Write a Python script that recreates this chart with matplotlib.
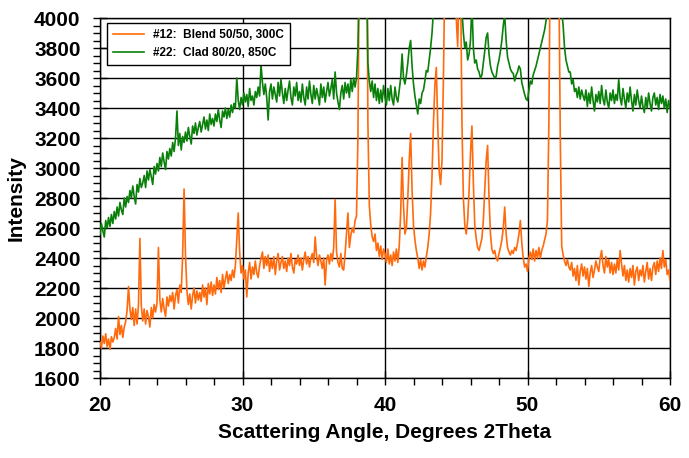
import numpy as np
import matplotlib
matplotlib.use("Agg")
import matplotlib.pyplot as plt
from matplotlib.ticker import MultipleLocator

# Scan grid: 20.0 .. 60.0 deg in 0.1 deg steps (instrument step)
angle = np.round(np.arange(200, 601) / 10.0, 1)

# #12: Blend 50/50, 300C  (one row per degree, 0.1 deg steps)
blend = [
    1840, 1800, 1880, 1830, 1895, 1810, 1860, 1790, 1875, 1840,   # 20
    1870, 1930, 1860, 2010, 1890, 1950, 1870, 1940, 1975, 2050,   # 21
    2210, 2060, 1990, 2070, 1950, 2060, 1960, 2090, 2530, 2080,   # 22
    1980, 2060, 1960, 2050, 2010, 1940, 2070, 2000, 2090, 2040,   # 23
    2100, 2470, 2120, 2040, 2130, 2060, 2010, 2140, 2080, 2150,   # 24
    2110, 2170, 2060, 2150, 2190, 2100, 2220, 2170, 2420, 2860,   # 25
    2420, 2180, 2090, 2160, 2060, 2150, 2200, 2100, 2180, 2120,   # 26
    2170, 2110, 2220, 2140, 2200, 2090, 2230, 2160, 2240, 2150,   # 27
    2220, 2160, 2270, 2190, 2250, 2170, 2290, 2200, 2260, 2310,   # 28
    2230, 2290, 2250, 2320, 2270, 2350, 2520, 2700, 2440, 2300,   # 29
    2350, 2260, 2320, 2140, 2300, 2370, 2260, 2340, 2290, 2380,   # 30
    2300, 2270, 2350, 2400, 2440, 2330, 2410, 2350, 2420, 2310,   # 31
    2390, 2330, 2410, 2290, 2380, 2430, 2320, 2370, 2410, 2330,   # 32
    2380, 2310, 2400, 2350, 2430, 2340, 2300, 2390, 2360, 2420,   # 33
    2350, 2400, 2320, 2390, 2440, 2360, 2410, 2340, 2400, 2430,   # 34
    2370, 2540, 2410, 2350, 2420, 2380, 2330, 2400, 2220, 2390,   # 35
    2420, 2360, 2430, 2380, 2470, 2790, 2440, 2370, 2340, 2430,   # 36
    2330, 2320, 2430, 2560, 2700, 2470, 2550, 2600, 2570, 2650,   # 37
    2680, 3200, 4500, 5000, 4600, 4400, 4600, 5000, 3300, 2750,   # 38
    2620, 2540, 2510, 2560, 2450, 2500, 2410, 2480, 2390, 2460,   # 39
    2430, 2370, 2460, 2360, 2420, 2350, 2440, 2380, 2460, 2370,   # 40
    2480, 2700, 3070, 2750, 2560, 2600, 2800, 3050, 3230, 2850,   # 41
    2620, 2520, 2450, 2400, 2330, 2390, 2320, 2380, 2340, 2410,   # 42
    2470, 2560, 2700, 2950, 3300, 3550, 3670, 3300, 2980, 2890,   # 43
    3050, 3600, 4300, 5000, 5500, 5600, 5500, 5200, 4800, 4300,   # 44
    4000, 3810, 4200, 4300, 3300, 2800, 2620, 2560, 2650, 2850,   # 45
    3100, 3280, 2900, 2620, 2530, 2470, 2450, 2490, 2530, 2650,   # 46
    2850, 3050, 3150, 2800, 2560, 2460, 2430, 2450, 2400, 2380,   # 47
    2430, 2470, 2520, 2600, 2740, 2560, 2470, 2440, 2420, 2450,   # 48
    2430, 2470, 2450, 2500, 2560, 2650, 2500, 2400, 2340, 2360,   # 49
    2310, 2400, 2440, 2390, 2460, 2380, 2450, 2400, 2470, 2400,   # 50
    2450, 2480, 2520, 2560, 2650, 3300, 4500, 5500, 6000, 6000,   # 51
    5500, 4800, 4300, 3200, 2480, 2420, 2380, 2350, 2390, 2340,   # 52
    2320, 2370, 2280, 2330, 2250, 2350, 2220, 2310, 2360, 2280,   # 53
    2340, 2260, 2330, 2210, 2300, 2350, 2270, 2320, 2380, 2340,   # 54
    2310, 2400, 2450, 2350, 2300, 2410, 2340, 2390, 2300, 2370,   # 55
    2290, 2360, 2300, 2390, 2320, 2450, 2360, 2280, 2350, 2250,   # 56
    2320, 2240, 2330, 2270, 2350, 2220, 2310, 2340, 2250, 2320,   # 57
    2280, 2350, 2240, 2310, 2370, 2260, 2330, 2250, 2340, 2370,   # 58
    2290, 2380, 2310, 2400, 2330, 2450, 2340, 2390, 2290, 2320,   # 59
    2250,                                                         # 60
]

# #22: Clad 80/20, 850C
clad = [
    2560, 2630, 2580, 2540, 2650, 2600, 2670, 2610, 2690, 2630,   # 20
    2710, 2660, 2740, 2680, 2770, 2720, 2690, 2800, 2740, 2810,   # 21
    2770, 2850, 2800, 2880, 2810, 2760, 2890, 2840, 2930, 2870,   # 22
    2900, 2950, 2870, 2980, 2920, 2990, 2940, 2890, 3010, 2960,   # 23
    3030, 2980, 3070, 3010, 3100, 3040, 2990, 3110, 3060, 3130,   # 24
    3080, 3170, 3110, 3200, 3380, 3150, 3230, 3120, 3210, 3170,   # 25
    3240, 3180, 3270, 3210, 3160, 3280, 3230, 3300, 3220, 3270,   # 26
    3310, 3240, 3290, 3340, 3260, 3320, 3250, 3360, 3290, 3330,   # 27
    3280, 3360, 3310, 3390, 3320, 3270, 3380, 3340, 3400, 3330,   # 28
    3390, 3340, 3420, 3370, 3430, 3400, 3600, 3450, 3390, 3470,   # 29
    3420, 3500, 3440, 3490, 3410, 3530, 3450, 3480, 3420, 3510,   # 30
    3470, 3540, 3480, 3690, 3570, 3490, 3560, 3470, 3320, 3510,   # 31
    3560, 3460, 3540, 3490, 3440, 3570, 3480, 3590, 3500, 3430,   # 32
    3530, 3450, 3520, 3580, 3470, 3420, 3540, 3480, 3570, 3450,   # 33
    3510, 3440, 3560, 3470, 3420, 3540, 3460, 3580, 3490, 3430,   # 34
    3550, 3460, 3530, 3480, 3420, 3560, 3470, 3540, 3440, 3510,   # 35
    3570, 3480, 3530, 3590, 3460, 3640, 3500, 3440, 3390, 3500,   # 36
    3550, 3460, 3570, 3500, 3560, 3470, 3590, 3510, 3600, 3540,   # 37
    3600, 3800, 4300, 4800, 4500, 4400, 4600, 4400, 3700, 3580,   # 38
    3510, 3580, 3470, 3560, 3450, 3530, 3430, 3520, 3440, 3550,   # 39
    3470, 3420, 3530, 3450, 3550, 3460, 3420, 3540, 3470, 3440,   # 40
    3520, 3600, 3760, 3600, 3560, 3620, 3700, 3800, 3850, 3680,   # 41
    3560, 3480, 3420, 3360, 3460, 3430, 3500, 3520, 3580, 3650,   # 42
    3640, 3720, 3800, 3900, 4050, 4300, 4600, 4700, 4750, 4800,   # 43
    4800, 5000, 5200, 5400, 5500, 5600, 5500, 5300, 5000, 4800,   # 44
    4600, 4400, 4300, 4200, 4050, 3900, 3800, 3840, 3720, 3760,   # 45
    3850, 4100, 3800, 3700, 3720, 3660, 3640, 3600, 3620, 3700,   # 46
    3780, 3870, 3900, 3760, 3680, 3640, 3620, 3600, 3610, 3680,   # 47
    3720, 3780, 3850, 3950, 4020, 3850, 3740, 3700, 3660, 3640,   # 48
    3630, 3580, 3620, 3640, 3680, 3660, 3570, 3530, 3490, 3460,   # 49
    3450, 3520, 3580, 3560, 3620, 3650, 3680, 3720, 3760, 3800,   # 50
    3840, 3880, 3920, 3980, 4100, 4400, 5000, 5600, 6000, 6000,   # 51
    5600, 5000, 4500, 4200, 4050, 3950, 3800, 3720, 3680, 3640,   # 52
    3640, 3560, 3590, 3510, 3530, 3470, 3540, 3460, 3520, 3480,   # 53
    3450, 3520, 3410, 3500, 3430, 3540, 3450, 3380, 3490, 3440,   # 54
    3510, 3430, 3550, 3460, 3420, 3520, 3440, 3400, 3500, 3450,   # 55
    3520, 3430, 3490, 3450, 3590, 3470, 3420, 3530, 3460, 3400,   # 56
    3500, 3440, 3540, 3450, 3380, 3490, 3420, 3520, 3450, 3400,   # 57
    3480, 3410, 3370, 3470, 3400, 3500, 3430, 3380, 3470, 3500,   # 58
    3420, 3470, 3390, 3490, 3430, 3480, 3400, 3460, 3370, 3450,   # 59
    3400,                                                         # 60
]

labels = ["#12:  Blend 50/50, 300C", "#22:  Clad 80/20, 850C"]
colors = ["#ff6a0d", "#0a800a"]

plt.rcParams['font.family'] = ['Liberation Sans', 'DejaVu Sans']

fig = plt.figure(figsize=(6.89, 4.58), dpi=100)
ax = fig.add_axes([100/689, 1 - 378/458, 570/689, 360/458])

ax.plot(angle, blend, color=colors[0], lw=1.2, label=labels[0], zorder=3)
ax.plot(angle, clad, color=colors[1], lw=1.2, label=labels[1], zorder=3)

ax.set_xlim(20, 60)
ax.set_ylim(1600, 4000)
ax.xaxis.set_major_locator(MultipleLocator(10))
ax.xaxis.set_minor_locator(MultipleLocator(2))
ax.yaxis.set_major_locator(MultipleLocator(200))
ax.yaxis.set_minor_locator(MultipleLocator(50))
ax.grid(True, which='major', color='black', lw=1.0, zorder=1)
ax.set_axisbelow(True)
for s in ax.spines.values():
    s.set_linewidth(1.0)
    s.set_color('black')

ax.tick_params(axis='y', which='major', direction='inout', length=10, width=1, pad=9, labelsize=15)
ax.tick_params(axis='y', which='minor', direction='out', length=5, width=1)
ax.tick_params(axis='x', which='major', direction='inout', length=10, width=1, pad=8, labelsize=15)
ax.tick_params(axis='x', which='minor', direction='out', length=5, width=1)
for lab in ax.get_xticklabels() + ax.get_yticklabels():
    lab.set_fontweight('bold')

ax.set_xlabel("Scattering Angle, Degrees 2Theta", fontsize=15, fontweight='bold', labelpad=6)
ax.set_ylabel("Intensity", fontsize=15, fontweight='bold', labelpad=6)

leg = ax.legend(loc='upper left', bbox_to_anchor=(7/570, 1 - 5/360),
                prop={'weight': 'bold', 'size': 8.5}, frameon=True, fancybox=False,
                edgecolor='black', framealpha=1, borderpad=0.5, handlelength=2.6,
                handletextpad=0.8, labelspacing=0.5, borderaxespad=0)
leg.get_frame().set_linewidth(1.0)

fig.savefig("out.png", dpi=100)
